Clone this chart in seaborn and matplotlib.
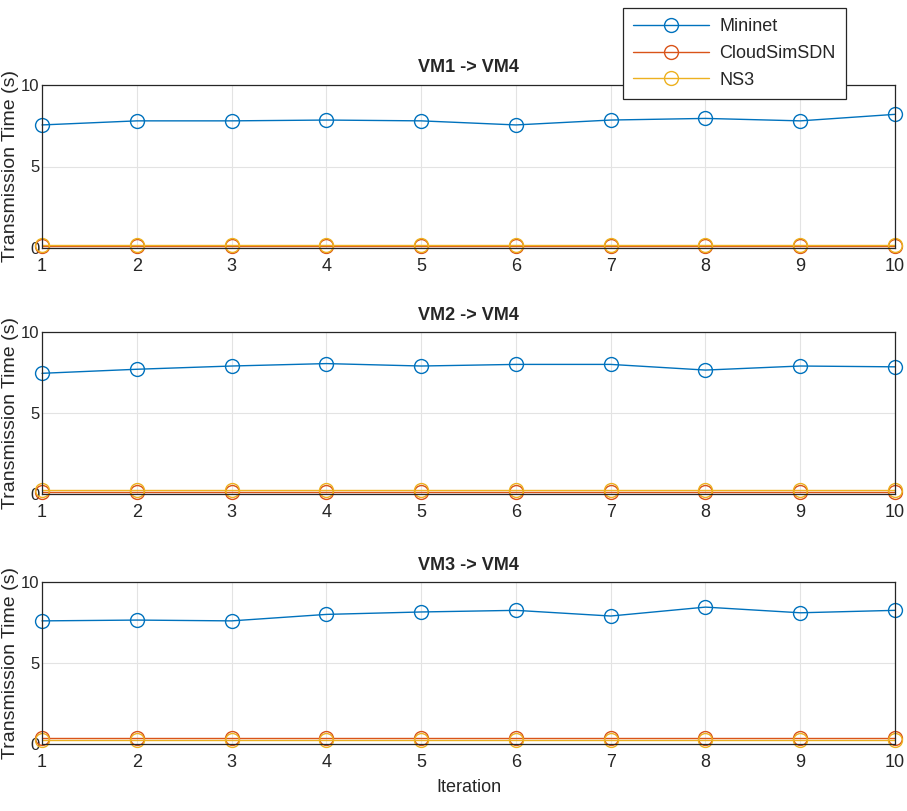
import pandas as pd
import matplotlib.pyplot as plt
import seaborn as sns

# ---------------------------------------------------------
# Transmission time per iteration
# ---------------------------------------------------------
iterations = list(range(1, 11))
tools = ["Mininet", "CloudSimSDN", "NS3"]
panel_titles = ["VM1 -> VM4", "VM2 -> VM4", "VM3 -> VM4"]

vm1_mininet = [7.55, 7.8, 7.8, 7.85, 7.8, 7.55, 7.85, 7.95, 7.8, 8.2]
vm1_cloudsim = [0.12, 0.12, 0.12, 0.12, 0.12, 0.12, 0.12, 0.12, 0.12, 0.12]
vm1_ns3 = [0.18, 0.18, 0.18, 0.18, 0.18, 0.18, 0.18, 0.18, 0.18, 0.18]

vm2_mininet = [7.45, 7.7, 7.9, 8.05, 7.9, 8.0, 8.0, 7.65, 7.9, 7.85]
vm2_cloudsim = [0.15, 0.15, 0.15, 0.15, 0.15, 0.15, 0.15, 0.15, 0.15, 0.15]
vm2_ns3 = [0.22, 0.22, 0.22, 0.22, 0.22, 0.22, 0.22, 0.22, 0.22, 0.22]

vm3_mininet = [7.6, 7.65, 7.6, 8.0, 8.15, 8.25, 7.9, 8.45, 8.1, 8.25]
vm3_cloudsim = [0.35, 0.35, 0.35, 0.35, 0.35, 0.35, 0.35, 0.35, 0.35, 0.35]
vm3_ns3 = [0.22, 0.22, 0.22, 0.22, 0.22, 0.22, 0.22, 0.22, 0.22, 0.22]

panels = [
    (vm1_mininet, vm1_cloudsim, vm1_ns3),
    (vm2_mininet, vm2_cloudsim, vm2_ns3),
    (vm3_mininet, vm3_cloudsim, vm3_ns3),
]

palette = {"Mininet": "#0072BD", "CloudSimSDN": "#D95319", "NS3": "#EDB120"}


def panel_frame(series):
    rows = []
    for tool, values in zip(tools, series):
        for it, v in zip(iterations, values):
            rows.append({"Iteration": it, "Time": v, "Tool": tool})
    return pd.DataFrame(rows)


sns.set_theme(style="white")
plt.rcParams["font.family"] = ["Liberation Sans", "DejaVu Sans"]

fig = plt.figure(figsize=(9.07, 8.11), dpi=100)
W, H = 907, 811
# (left, top, right, bottom) in pixels
pix_boxes = [(42, 85, 895, 248), (42, 332, 895, 494), (42, 582, 895, 744)]

axes = []
for i, (box, series) in enumerate(zip(pix_boxes, panels)):
    l, t, r, b = box
    ax = fig.add_axes([l / W, 1 - b / H, (r - l) / W, (b - t) / H])
    df = panel_frame(series)
    sns.lineplot(data=df, x="Iteration", y="Time", hue="Tool", hue_order=tools,
                 palette=palette, marker="o", markersize=10, linewidth=1.0,
                 markerfacecolor="none", errorbar=None, ax=ax, legend=(i == 0))
    for line in ax.lines:
        line.set_markeredgecolor(line.get_color())
        line.set_markeredgewidth(1.0)
        line.set_clip_on(False)

    ax.set_xlim(1, 10)
    ax.set_ylim(0, 10)
    ax.set_xticks(iterations)
    ax.set_yticks([0, 5, 10])
    ax.grid(True, color="#e3e3e3", linewidth=0.8)
    ax.set_axisbelow(True)
    ax.tick_params(axis="both", direction="in", length=4, labelsize=13,
                   colors="#262626")
    ax.tick_params(axis="x", pad=7)
    ax.tick_params(axis="y", pad=2, labelsize=12)
    for spine in ax.spines.values():
        spine.set_color("#262626")
        spine.set_linewidth(0.9)
    ax.set_title(panel_titles[i], fontsize=13, fontweight="bold", pad=9)
    ax.set_ylabel("Transmission Time (s)", fontsize=14, color="#262626")
    ax.yaxis.set_label_coords(-0.027, 0.5)
    if i == 2:
        ax.set_xlabel("Iteration", fontsize=13, color="#262626", labelpad=6)
    else:
        ax.set_xlabel("")
    axes.append(ax)

# legend overlapping the top panel, upper right
handles, labels = axes[0].get_legend_handles_labels()
axes[0].get_legend().remove()
leg = fig.legend(handles, labels, loc="upper left",
                 bbox_to_anchor=(623 / W, 1 - 8 / H), borderaxespad=0,
                 fontsize=13, frameon=True, fancybox=False,
                 edgecolor="#262626", framealpha=1, handlelength=4.2,
                 handletextpad=0.6, borderpad=0.55, labelspacing=0.55)
leg.get_frame().set_linewidth(0.9)
for text in leg.get_texts():
    text.set_color("#262626")

fig.savefig("out.png", dpi=100)
